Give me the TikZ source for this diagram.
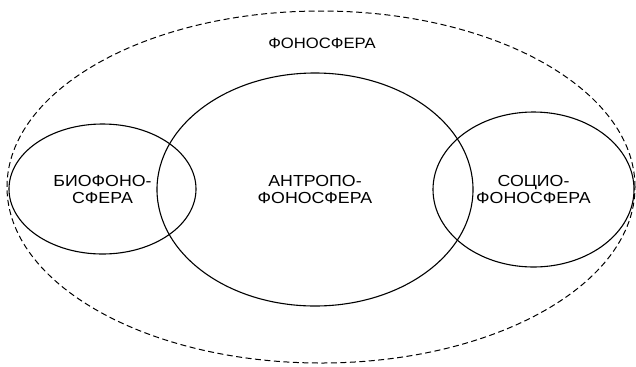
\documentclass[tikz,border=0pt]{standalone}
\usepackage{fontspec}
\setmainfont[FakeStretch=1.11]{Liberation Sans}
\usetikzlibrary{shapes.geometric}

\begin{document}
\begin{tikzpicture}[x=1bp, y=-1bp,
    sphere/.style={draw, ellipse, line width=1.1bp, inner sep=0pt, align=center,
      font=\fontsize{16bp}{17bp}\selectfont},
    outersphere/.style={draw, ellipse, dash pattern=on 6bp off 3.5bp, line width=1bp, inner sep=0pt}]
  \useasboundingbox (0,0) rectangle (636,366);

  % Outer dashed ellipse and its title
  \node[outersphere, minimum width=628bp, minimum height=352bp] (phono) at (321,187) {};
  \node[font=\fontsize{15bp}{16bp}\selectfont] (phonotitle) at (322,43) {ФОНОСФЕРА};

  % Inner spheres
  \node[sphere, minimum width=187bp, minimum height=130bp] (bio) at (102.5,189) {БИОФОНО-\\СФЕРА};
  \node[sphere, minimum width=316bp, minimum height=233bp] (anthropo) at (315,189.5) {АНТРОПО-\\ФОНОСФЕРА};
  \node[sphere, minimum width=201bp, minimum height=155bp] (socio) at (533.5,189.5) {СОЦИО-\\ФОНОСФЕРА};
\end{tikzpicture}
\end{document}
